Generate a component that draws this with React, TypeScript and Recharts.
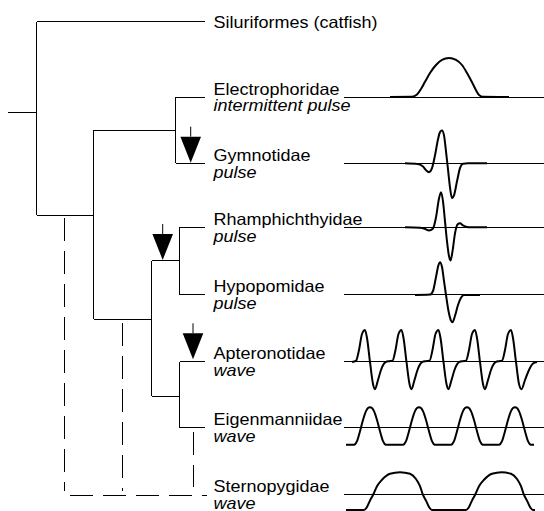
import React from 'react';
import { ComposedChart, Line, Scatter, XAxis, YAxis } from 'recharts';

// ---------- data ----------
const taxa = [
  'Siluriformes (catfish)',
  'Electrophoridae',
  'Gymnotidae',
  'Rhamphichthyidae',
  'Hypopomidae',
  'Apteronotidae',
  'Eigenmanniidae',
  'Sternopygidae',
];
const eodTypes = ['', 'intermittent pulse', 'pulse', 'pulse', 'pulse', 'wave', 'wave', 'wave'];
// vertical position of each taxon (row units)
const taxonRows = [-0.131, 1, 2, 2.965, 3.985, 4.995, 5.99, 7];

// tree (depth units along x, row units along y)
const rootStemDepth = 8;
const tipDepth = 205;
const nodeIds = ['root', 'B', 'C', 'D', 'E', 'F'];
const nodeDepths = [36.5, 93.5, 175.5, 151.5, 179.5, 179.5];
const nodeRows = [1.241, 2.779, 1.505, 4.347, 3.472, 5.508];
const nodeParents = [null, 'root', 'B', 'B', 'D', 'D'];
// parent node of each taxon (Sternopygidae placed only by dashed links)
const tipParents = ['root', 'C', 'C', 'E', 'E', 'F', 'F', null];

// dashed alternative placements of Sternopygidae
const dashedDepth1 = [64.5, 122.7, 193.3, 70];
const dashedRow1 = [2.824, 4.407, 6.05, 7.01];
const dashedDepth2 = [64.5, 122.7, 193.3, 207];
const dashedRow2 = [6.94, 6.94, 6.88, 7.01];

// arrows (tip position)
const arrowDepths = [190.7, 162.7, 193];
const arrowRows = [1.99, 3.457, 4.955];

// EOD traces: [time, amplitude]
const traceStart = 344;
const traceEnd = 544;
const electrophoridaeEOD = [
  [390, 0], [412, 0.005], [417, 0.06], [421, 0.2], [425, 0.38], [430, 0.6], [436, 0.8], [442, 0.93],
  [449, 0.975], [456, 0.93], [462, 0.8], [467, 0.6], [472, 0.37], [476, 0.17], [479, 0.05], [483, 0.005], [509, 0],
];
const gymnotidaeEOD = [
  [405, 0], [418, -0.02], [423, -0.08], [426, -0.17], [429, -0.22], [432, -0.12], [435, 0.2], [438, 0.6],
  [440, 0.78], [442, 0.82], [444, 0.7], [446, 0.3], [448, -0.15], [450, -0.6], [452, -0.87], [454, -0.8],
  [457, -0.45], [460, -0.12], [463, -0.01], [468, 0], [487, 0],
];
const rhamphichthyidaeEOD = [
  [405, 0], [420, -0.01], [425, -0.04], [429, -0.08], [433, -0.03], [436, 0.25], [439, 0.72], [441, 0.88],
  [443, 0.65], [445, 0.15], [447, -0.35], [449, -0.72], [450.5, -0.83], [452.5, -0.6], [455, -0.15],
  [457.5, 0.07], [460, 0.1], [463, 0.05], [467, 0.01], [470, 0], [487, 0],
];
const hypopomidaeEOD = [
  [415, 0], [430, 0.01], [433, 0.1], [436, 0.45], [438.5, 0.75], [440, 0.82], [442, 0.7], [444, 0.35],
  [446, 0], [448.5, -0.4], [451, -0.64], [452.5, -0.68], [455, -0.52], [458, -0.25], [461, -0.07], [464, 0], [480, 0],
];
const apteronotidaeEOD = [
  [352, 0], [356, 0.03], [359, 0.3], [362, 0.7], [365, 0.8], [367, 0.6], [370, 0], [373, -0.55], [375, -0.68],
  [378, -0.45], [381, -0.2], [384, -0.04], [386, 0], [389, 0.02],
  [392.5, 0.03], [395.5, 0.3], [398.5, 0.7], [401.5, 0.8], [403.5, 0.6], [406.5, 0], [409.5, -0.55], [411.5, -0.68],
  [414.5, -0.45], [417.5, -0.2], [420.5, -0.04], [422.5, 0], [425.5, 0.02],
  [429.5, 0.03], [432.5, 0.3], [435.5, 0.7], [438.5, 0.8], [440.5, 0.6], [443.5, 0], [446.5, -0.55], [448.5, -0.68],
  [451.5, -0.45], [454.5, -0.2], [457.5, -0.04], [459.5, 0], [462.5, 0.02],
  [466, 0.03], [469, 0.3], [472, 0.7], [475, 0.8], [477, 0.6], [480, 0], [483, -0.55], [485, -0.68],
  [488, -0.45], [491, -0.2], [494, -0.04], [496, 0], [499, 0.02],
  [502, 0.03], [505, 0.3], [508, 0.7], [511, 0.8], [513, 0.6], [516, 0], [519, -0.55], [521.5, -0.68],
  [525, -0.45], [529, -0.2], [533, -0.04], [537, 0],
];
const eigenmanniidaeEOD = [
  [346, -0.42], [354, -0.42], [357, -0.33], [360, -0.08], [363, 0.2], [366, 0.42], [368, 0.5], [370, 0.52],
  [372, 0.5], [374, 0.42], [377, 0.2], [380, -0.08], [383, -0.33], [386, -0.42],
  [403, -0.42], [406, -0.33], [409, -0.08], [412, 0.2], [415, 0.42], [417, 0.5], [419, 0.52],
  [421, 0.5], [423, 0.42], [426, 0.2], [429, -0.08], [432, -0.33], [435, -0.42],
  [451, -0.42], [454, -0.33], [457, -0.08], [460, 0.2], [463, 0.42], [465, 0.5], [467, 0.52],
  [469, 0.5], [471, 0.42], [474, 0.2], [477, -0.08], [480, -0.33], [483, -0.42],
  [499, -0.42], [502, -0.33], [505, -0.08], [508, 0.2], [511, 0.42], [513, 0.5], [515, 0.52],
  [517, 0.5], [519, 0.42], [522, 0.2], [525, -0.08], [528, -0.33], [531, -0.42], [534, -0.42],
];
const sternopygidaeEOD = [
  [346, -0.375], [364, -0.375], [367, -0.3], [370, -0.14], [373, 0], [377, 0.22], [382, 0.38], [390, 0.53],
  [400, 0.57], [410, 0.53], [416, 0.4], [420, 0.22], [423, 0], [426, -0.14], [429, -0.3], [432, -0.375],
  [466, -0.375], [469, -0.3], [472, -0.14], [475, 0], [479, 0.22], [484, 0.38], [492, 0.53],
  [501.5, 0.57], [511, 0.53], [517, 0.4], [521, 0.22], [524, 0], [527, -0.14], [530, -0.3], [533, -0.375], [535, -0.375],
];
const eodTraces = [null, electrophoridaeEOD, gymnotidaeEOD, rhamphichthyidaeEOD, hypopomidaeEOD,
  apteronotidaeEOD, eigenmanniidaeEOD, sternopygidaeEOD];

// ---------- layout / style ----------
const W = 544;
const H = 511;
const X_DOMAIN = [0, 544];
const Y_DOMAIN = [-0.4624, 7.2415];
const AMP_TO_ROW = 0.603;
const FONT = '"Liberation Sans", Arial, Helvetica, sans-serif';
const FONT_SIZE = 18;
const V_SQUEEZE = 0.94;
const labelDepth = 213.5;

type Pt = { x: number; y: number };
const seg = (x1: number, y1: number, x2: number, y2: number): Pt[] => [
  { x: x1, y: y1 },
  { x: x2, y: y2 },
];

// build tree segments
const treeSegments: Pt[][] = [];
nodeIds.forEach((id, i) => {
  const p = nodeParents[i];
  const pDepth = p === null ? rootStemDepth : nodeDepths[nodeIds.indexOf(p)];
  treeSegments.push(seg(pDepth, nodeRows[i], nodeDepths[i], nodeRows[i]));
  const childRows: number[] = [];
  tipParents.forEach((tp, t) => { if (tp === id) childRows.push(taxonRows[t]); });
  nodeParents.forEach((np, j) => { if (np === id) childRows.push(nodeRows[j]); });
  treeSegments.push(seg(nodeDepths[i], Math.min(...childRows), nodeDepths[i], Math.max(...childRows)));
});
tipParents.forEach((tp, t) => {
  if (tp === null) return;
  const d = nodeDepths[nodeIds.indexOf(tp)];
  treeSegments.push(seg(d, taxonRows[t], tipDepth, taxonRows[t]));
});

const dashedSegments = dashedDepth1.map((d, i) => seg(d, dashedRow1[i], dashedDepth2[i], dashedRow2[i]));

const baselineSegments = taxonRows
  .map((r, i) => (eodTraces[i] ? seg(traceStart, r, traceEnd, r) : null))
  .filter(Boolean) as Pt[][];

const traceSeries = eodTraces
  .map((tr, i) => (tr ? tr.map(([t, a]) => ({ x: t, y: taxonRows[i] - a * AMP_TO_ROW })) : null));

const labelData = taxa.map((name, i) => ({
  x: labelDepth,
  y: taxonRows[i],
  name,
  eod: eodTypes[i],
}));

const arrowData = arrowDepths.map((d, i) => ({ x: d, y: arrowRows[i] }));

const LabelText = ({ x, y, italic, children }: any) => (
  <text
    transform={`translate(${x},${y}) scale(1,${V_SQUEEZE})`}
    x={0}
    y={0}
    fontFamily={FONT}
    fontSize={FONT_SIZE}
    fontStyle={italic ? 'italic' : 'normal'}
    fill="#000"
  >
    {children}
  </text>
);

const renderLabel = (props: any) => {
  const { cx, cy, payload } = props;
  const centered = !payload.eod;
  return (
    <g>
      <LabelText x={cx} y={centered ? cy + 6.3 : cy - 2.5}>{payload.name}</LabelText>
      {payload.eod ? (
        <LabelText x={cx} y={cy + 14.3} italic>{payload.eod}</LabelText>
      ) : null}
    </g>
  );
};

const renderArrow = (props: any) => {
  const { cx, cy } = props;
  return (
    <g>
      <line x1={cx} y1={cy - 36} x2={cx} y2={cy - 26} stroke="#000" strokeWidth={1} />
      <polygon points={`${cx - 10.3},${cy - 26} ${cx + 10.3},${cy - 26} ${cx},${cy}`} fill="#000" />
    </g>
  );
};

export default function App() {
  return (
    <div style={{ position: 'absolute', left: 0, top: 0, width: W, height: H, background: '#fff' }}>
      <ComposedChart width={W} height={H} margin={{ top: 0, right: 0, bottom: 0, left: 0 }}>
        <XAxis dataKey="x" type="number" domain={X_DOMAIN} allowDataOverflow hide />
        <YAxis dataKey="y" type="number" domain={Y_DOMAIN} allowDataOverflow reversed hide />
        {baselineSegments.map((s, i) => (
          <Line key={`base${i}`} data={s} dataKey="y" stroke="#000" strokeWidth={1} dot={false}
            activeDot={false} type="linear" isAnimationActive={false} shapeRendering="crispEdges" />
        ))}
        {traceSeries.map((s, i) =>
          s ? (
            <Line key={`eod${i}`} data={s} dataKey="y" stroke="#000" strokeWidth={2} dot={false}
              activeDot={false} type="monotone" isAnimationActive={false} />
          ) : null,
        )}
        {treeSegments.map((s, i) => (
          <Line key={`tree${i}`} data={s} dataKey="y" stroke="#000" strokeWidth={1} dot={false}
            activeDot={false} type="linear" isAnimationActive={false} shapeRendering="crispEdges" />
        ))}
        {dashedSegments.map((s, i) => (
          <Line key={`dash${i}`} data={s} dataKey="y" stroke="#000" strokeWidth={1} strokeDasharray="23 10"
            dot={false} activeDot={false} type="linear" isAnimationActive={false} shapeRendering="crispEdges" />
        ))}
        <Scatter data={arrowData} dataKey="y" shape={renderArrow} isAnimationActive={false} />
        <Scatter data={labelData} dataKey="y" shape={renderLabel} isAnimationActive={false} />
      </ComposedChart>
    </div>
  );
}
